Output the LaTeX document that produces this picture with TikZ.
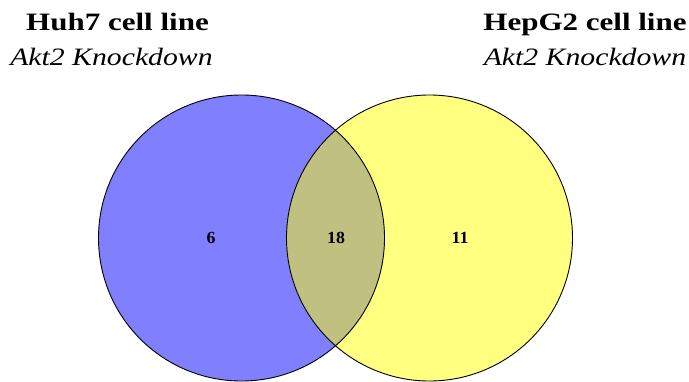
\documentclass[tikz,border=0pt]{standalone}
\usepackage{fontspec}
\setmainfont{Liberation Serif}
\newfontfamily\titlefam{Liberation Serif}[FakeStretch=1.24]
\newfontfamily\subfam{Liberation Serif}[FakeStretch=1.19]
\newfontfamily\countfam{Liberation Serif}[FakeStretch=1.05]
\definecolor{setA}{RGB}{128,128,255}
\definecolor{setB}{RGB}{255,255,128}
\definecolor{setAB}{RGB}{192,192,128}
\tikzset{
  titletext/.style={anchor=base, inner sep=0pt, font=\titlefam\fontsize{25}{28}\selectfont\bfseries},
  subtext/.style={anchor=base, inner sep=0pt, font=\subfam\fontsize{25}{28}\selectfont\itshape},
  count/.style={inner sep=0pt, font=\countfam\fontsize{17}{19}\selectfont\bfseries},
  outline/.style={draw=black, line width=0.9pt}
}
\begin{document}
\begin{tikzpicture}[x=1pt,y=-1pt]
\useasboundingbox (0,0) rectangle (689,381);
\fill[white] (0,0) rectangle (689,381);
\begin{scope}
\clip (0,0) rectangle (689,381);
\fill[setA] (241.5,238) circle[radius=143pt];
\fill[setB] (429.5,238) circle[radius=143pt];
\begin{scope}
\clip (241.5,238) circle[radius=143pt];
\fill[setAB] (429.5,238) circle[radius=143pt];
\end{scope}
\draw[outline] (241.5,238) circle[radius=143pt];
\draw[outline] (429.5,238) circle[radius=143pt];
\end{scope}
\node[titletext] (t1) at (117.5,30) {Huh7 cell line};
\node[subtext] (s1) at (111.5,65) {Akt2 Knockdown};
\node[titletext] (t2) at (585,30) {HepG2 cell line};
\node[subtext] (s2) at (585,65) {Akt2 Knockdown};
\node[count] (n1) at (211,238) {6};
\node[count] (n2) at (336,238) {18};
\node[count] (n3) at (460,238) {11};
\end{tikzpicture}
\end{document}
